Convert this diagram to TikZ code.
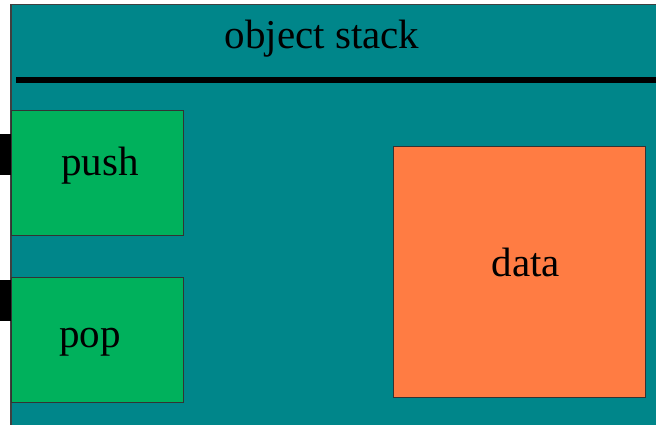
\documentclass[tikz,border=0pt]{standalone}
\usepackage{fontspec}
\setmainfont{Liberation Serif}
\usetikzlibrary{positioning}

\definecolor{stackteal}{RGB}{0,134,138}
\definecolor{opgreen}{RGB}{0,177,92}
\definecolor{dataorange}{RGB}{255,124,67}

\tikzset{
  opbox/.style={draw=black!80, line width=0.8pt, fill=opgreen, anchor=north west,
    minimum width=172pt, minimum height=125pt, inner sep=0pt},
  databox/.style={draw=black!80, line width=0.8pt, fill=dataorange, anchor=north west,
    minimum width=252pt, minimum height=251pt, inner sep=0pt},
  tab/.style={fill=black, anchor=north west, minimum width=11pt, minimum height=41pt, inner sep=0pt},
  lbl/.style={anchor=base, font=\fontsize{41}{41}\selectfont, inner sep=0pt}
}

\begin{document}
\begin{tikzpicture}[x=1pt, y=-1pt]
\useasboundingbox (0,0) rectangle (656,424);
% object body
\fill[white] (0,0) rectangle (656,424);
\draw[fill=stackteal, draw=black!75, line width=1.2pt] (680,450) -- (11,450) -- (11,4.5) -- (680,4.5);
\node[lbl] (title) at (322,48) {object stack};
\coordinate (barL) at (16,80);
\coordinate (barR) at (670,80);
\draw[line width=6pt] (barL) -- (barR);
% operations
\node[opbox] (push) at (11,110) {};
\node[opbox] (pop) at (11,277) {};
\node[tab] (pushtab) at (0,134) {};
\node[tab] (poptab) at (0,280) {};
\node[lbl] (pushtxt) at (100,175) {push};
\node[lbl] (poptxt) at (90,347) {pop};
% state
\node[databox] (data) at (393,146) {};
\node[lbl] (datatxt) at (526,276) {data};
\end{tikzpicture}
\end{document}
